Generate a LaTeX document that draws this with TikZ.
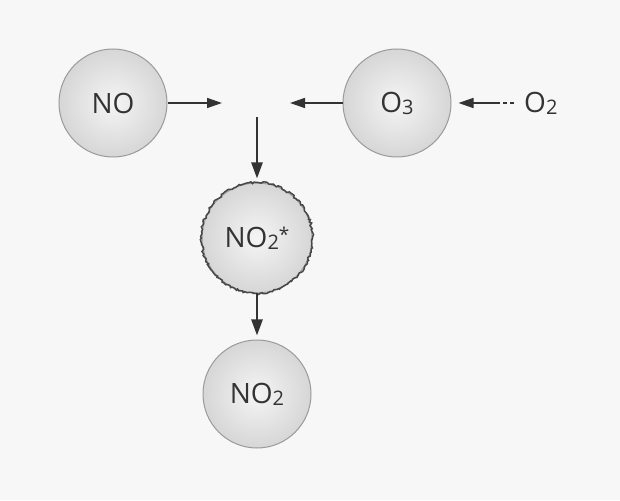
\documentclass[tikz,border=0pt]{standalone}
\usepackage{fontspec}
\setmainfont{Open Sans}
\usetikzlibrary{arrows.meta,decorations.pathmorphing}
\definecolor{bg}{HTML}{F7F7F7}
\definecolor{txt}{HTML}{333333}
\definecolor{rim}{HTML}{9A9A9A}
\newcommand{\sbs}[1]{\raisebox{-2pt}{\fontsize{20}{20}\selectfont #1}}
\tikzset{
  mol/.style={circle, minimum size=108pt, inner sep=0pt, draw=rim, line width=1pt,
     inner color=white!92!gray, outer color=gray!32, text=txt,
     font=\fontsize{28}{28}\selectfont},
  arr/.style={draw=txt, line width=1.5pt, -{Triangle[length=15pt,width=10pt]}},
  darr/.style={draw=txt, line width=2.4pt, -{Triangle[length=16pt,width=11pt]}},
}
\begin{document}
\begin{tikzpicture}[x=1pt,y=1pt]
\fill[bg] (0,0) rectangle (620,500);
\useasboundingbox (0,0) rectangle (620,500);
\node[mol] (no) at (113,397) {NO};
\node[mol] (o3) at (397,397) {O\sbs{3}};
\node[mol, minimum size=110pt] (no2s) at (257,262) {NO\sbs{2}\raisebox{6pt}{\fontsize{19}{19}\selectfont*}};
\draw[txt!90, line width=1.5pt, decorate, decoration={random steps, segment length=2pt, amplitude=1.2pt}] (no2s.center) circle (55.5pt);
\node[mol] (no2) at (257,106) {NO\sbs{2}};
\node[text=txt, font=\fontsize{28}{28}\selectfont, anchor=west, inner sep=0pt] (o2) at (524,397) {O\sbs{2}};
\coordinate (j1) at (222,397);
\coordinate (j2) at (290,397);
\coordinate (j3) at (257,383);
\draw[arr] (no) -- (j1);
\draw[arr] (o3) -- (j2);
\draw[darr, shorten >=4pt] (j3) -- (no2s);
\draw[darr, shorten >=4pt] (no2s) -- (no2);
\draw[arr, dash pattern=on 4pt off 3pt on 4pt off 3pt on 80pt, shorten <=10pt, shorten >=7pt] (o2.west) -- (o3.east);
\end{tikzpicture}
\end{document}
